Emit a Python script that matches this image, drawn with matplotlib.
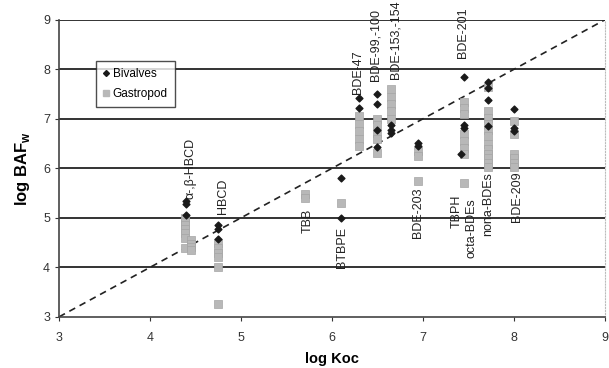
import matplotlib
matplotlib.use('Agg')
import matplotlib.pyplot as plt
from matplotlib.lines import Line2D

plt.rcParams['font.family'] = ['Liberation Sans', 'DejaVu Sans']
plt.rcParams['mathtext.fontset'] = 'custom'
plt.rcParams['mathtext.rm'] = 'Liberation Sans'
plt.rcParams['mathtext.bf'] = 'Liberation Sans:bold'

# Bivalves (black diamonds): log Koc, log BAFw
bivalve_x = [4.4, 4.4, 4.4,
             4.75, 4.75, 4.75,
             6.1, 6.1,
             6.3, 6.3,
             6.5, 6.5, 6.5, 6.5,
             6.65, 6.65, 6.65,
             6.95, 6.95,
             7.45, 7.45, 7.45, 7.42,
             7.72, 7.72, 7.72, 7.72,
             8.0, 8.0, 8.0]
bivalve_y = [5.35, 5.28, 5.05,
             4.85, 4.78, 4.58,
             5.8, 5.0,
             7.42, 7.22,
             7.5, 7.3, 6.78, 6.43,
             6.88, 6.78, 6.72,
             6.52, 6.45,
             7.85, 6.88, 6.82, 6.3,
             7.75, 7.62, 7.38, 6.85,
             7.2, 6.82, 6.76]

# Gastropod (gray squares)
gastro_x = [4.38] * 7 + [4.45] * 4 + [4.75] * 6 + [5.7] * 2 + [6.1] \
    + [6.3] * 5 + [6.5] * 5 + [6.65] * 5 + [6.95] * 3 + [7.45] * 8 \
    + [7.72] * 12 + [8.0] * 6
gastro_y = [5.0, 4.92, 4.85, 4.78, 4.7, 4.6, 4.4,
            4.55, 4.48, 4.42, 4.35,
            4.5, 4.4, 4.3, 4.2, 4.0, 3.25,
            5.48, 5.4,
            5.3,
            7.05, 6.9, 6.75, 6.6, 6.45,
            7.0, 6.88, 6.72, 6.6, 6.32,
            7.6, 7.45, 7.3, 7.15, 7.0,
            6.35, 6.25, 5.75,
            7.35, 7.22, 7.1, 6.7, 6.55, 6.42, 6.3, 5.7,
            7.65, 7.15, 7.02, 6.9, 6.78, 6.65, 6.5, 6.4, 6.3, 6.2, 6.1, 6.03,
            6.95, 6.7, 6.3, 6.2, 6.1, 6.03]

# compound labels (text, x, centre y)
label_names = ['α-,β-HBCD', 'HBCD', 'TBB', 'BTBPE', 'BDE-47', 'BDE-99,-100',
               'BDE-153,-154', 'BDE-201', 'BDE-203', 'TBPH', 'octa-BDEs',
               'nona-BDEs', 'BDE-209']
label_x = [4.45, 4.8, 5.73, 6.11, 6.29, 6.48, 6.7, 7.44, 6.95, 7.37, 7.54, 7.72, 8.04]
label_y = [6.0, 5.43, 4.95, 4.41, 7.94, 8.5, 8.6, 8.75, 5.1, 5.13, 4.8, 5.27, 5.42]

xticks = [3, 4, 5, 6, 7, 8, 9]
yticks = [3, 4, 5, 6, 7, 8, 9]

fig = plt.figure(figsize=(6.09, 3.68), dpi=100)
ax = fig.add_axes([0.097, 0.139, 0.896, 0.807])

for y in yticks[1:]:
    ax.axhline(y, color='#333333', lw=1.4, zorder=1)

ax.plot([3, 9], [3, 9], color='#222222', ls=(0, (4, 3)), lw=1.2, zorder=2)

ax.scatter(gastro_x, gastro_y, marker='s', s=40, color='#b8b8b8',
           edgecolors='#a5a5a5', linewidths=0.5, zorder=3)
ax.scatter(bivalve_x, bivalve_y, marker='D', s=12, color='#1a1a1a', zorder=4)

for name, x, y in zip(label_names, label_x, label_y):
    ax.text(x, y, name, rotation=90, ha='center', va='center', fontsize=9,
            color='#222222', clip_on=False, zorder=5)

ax.set_xlim(3, 9)
ax.set_ylim(3, 9)
ax.set_xticks(xticks)
ax.set_yticks(yticks)
ax.tick_params(labelsize=9, length=3, colors='#333333')
ax.tick_params(axis='x', pad=8)
for s in ['left', 'bottom']:
    ax.spines[s].set_color('#444444')
    ax.spines[s].set_linewidth(1.2)
ax.spines['top'].set_visible(False)
ax.spines['right'].set_color('#bbbbbb')
ax.spines['right'].set_linestyle(':')

ax.set_xlabel('log Koc', fontsize=10.5, fontweight='bold', labelpad=6)
ax.set_ylabel(r'log BAF$_\mathbf{w}$', fontsize=12, fontweight='bold', labelpad=8)

handles = [Line2D([], [], marker='D', color='#1a1a1a', ls='', ms=3),
           Line2D([], [], marker='s', color='#b8b8b8', ls='', ms=4.5)]
leg = ax.legend(handles, ['Bivalves', 'Gastropod'], loc='upper left',
                bbox_to_anchor=(0.068, 0.862), fontsize=8.5, frameon=True,
                fancybox=False, handlelength=0.5, handletextpad=0.3,
                borderpad=0.6, labelspacing=0.7, borderaxespad=0)
leg.get_frame().set_edgecolor('#222222')
leg.get_frame().set_linewidth(1.0)

fig.savefig('out.png', dpi=100)
